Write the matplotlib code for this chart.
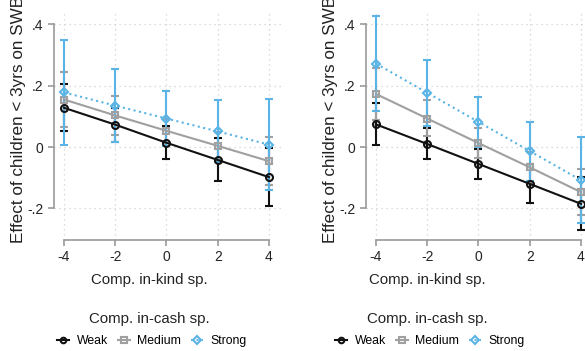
import matplotlib.pyplot as plt

plt.rcParams['font.family'] = ['Liberation Sans', 'DejaVu Sans']

x = [-4, -2, 0, 2, 4]
series = ['Weak', 'Medium', 'Strong']

# left panel: point estimates and CI bounds
left_est = {
    'Weak':   [0.128, 0.073, 0.014, -0.042, -0.098],
    'Medium': [0.155, 0.103, 0.053, 0.004, -0.046],
    'Strong': [0.178, 0.135, 0.093, 0.051, 0.008],
}
left_lo = {
    'Weak':   [0.052, 0.018, -0.038, -0.111, -0.192],
    'Medium': [0.065, 0.038, 0.013, -0.041, -0.124],
    'Strong': [0.007, 0.016, 0.004, -0.050, -0.140],
}
left_hi = {
    'Weak':   [0.207, 0.128, 0.068, 0.028, -0.003],
    'Medium': [0.246, 0.167, 0.093, 0.049, 0.032],
    'Strong': [0.349, 0.254, 0.182, 0.153, 0.157],
}

# right panel
right_est = {
    'Weak':   [0.074, 0.010, -0.055, -0.120, -0.185],
    'Medium': [0.173, 0.093, 0.013, -0.066, -0.147],
    'Strong': [0.272, 0.177, 0.082, -0.013, -0.108],
}
right_lo = {
    'Weak':   [0.008, -0.039, -0.103, -0.183, -0.272],
    'Medium': [0.088, 0.035, -0.037, -0.116, -0.222],
    'Strong': [0.117, 0.068, 0.001, -0.110, -0.249],
}
right_hi = {
    'Weak':   [0.142, 0.061, -0.006, -0.055, -0.097],
    'Medium': [0.258, 0.153, 0.063, -0.016, -0.072],
    'Strong': [0.427, 0.283, 0.162, 0.083, 0.034],
}

colors = {'Weak': '#111111', 'Medium': '#a0a0a0', 'Strong': '#5ab4e5'}
markers = {'Weak': 'o', 'Medium': 's', 'Strong': 'D'}
msizes = {'Weak': 5, 'Medium': 5, 'Strong': 4.5}
styles = {'Weak': '-', 'Medium': '-', 'Strong': ':'}

W, H = 585, 351
fig = plt.figure(figsize=(W / 100, H / 100), dpi=100)


def panel(left_px, est, lo, hi, xlab_x, ylab_x, leg_x):
    ax = fig.add_axes([left_px / W, (H - 240) / H, 227 / W, 227 / H])
    handles = []
    for s in series:
        c = colors[s]
        yerr = [[e - l for e, l in zip(est[s], lo[s])],
                [h - e for e, h in zip(est[s], hi[s])]]
        ax.errorbar(x, est[s], yerr=yerr, fmt='none', ecolor=c, elinewidth=1.5,
                    capsize=3, capthick=1.5, zorder=2)
        ln, = ax.plot(x, est[s], linestyle=styles[s], color=c, lw=1.5,
                      marker=markers[s], ms=msizes[s], mfc='none', mec=c, mew=1.5,
                      label=s, zorder=3)
        handles.append(ln)
    ax.set_xlim(-4.39, 4.47)
    ax.set_ylim(-0.303, 0.437)
    ax.set_xticks(x)
    ax.set_xticklabels(['-4', '-2', '0', '2', '4'])
    ax.set_yticks([-0.2, 0, 0.2, 0.4])
    ax.set_yticklabels(['-.2', '0', '.2', '.4'])
    ax.grid(True, linestyle=(0, (1, 3)), color='#d0d0d0', lw=0.9)
    for sp in ['top', 'right']:
        ax.spines[sp].set_visible(False)
    ax.spines['left'].set_bounds(-0.2, 0.4)
    ax.spines['bottom'].set_bounds(-4, 4)
    for sp in ['left', 'bottom']:
        ax.spines[sp].set_color('#999999')
        ax.spines[sp].set_linewidth(1.2)
    ax.tick_params(colors='#999999', labelcolor='#222222', labelsize=10,
                   length=4, width=1.2)
    ax.set_axisbelow(True)
    # the source crops the long y title at the top edge
    fig.text(ylab_x / W, 1 - 119 / H, 'Effect of children < 3yrs on SWB',
             rotation=90, ha='center', va='center', fontsize=12.3, color='#222222')
    fig.text(xlab_x / W, 1 - 280 / H, 'Comp. in-kind sp.', ha='center',
             va='center', fontsize=10.8, color='#222222')
    fig.text(xlab_x / W, 1 - 319 / H, 'Comp. in-cash sp.', ha='center',
             va='center', fontsize=10.8, color='#222222')
    fig.legend(handles=handles, loc='center', bbox_to_anchor=(leg_x / W, 1 - 341 / H),
               ncol=3, frameon=False, fontsize=8.8, handlelength=1.0,
               handletextpad=0.6, columnspacing=0.8, borderaxespad=0,
               markerscale=0.8)
    return ax


panel(54, left_est, left_lo, left_hi, 149, 19, 152)
panel(366, right_est, right_lo, right_hi, 427, 331, 430)

fig.savefig('out.png', dpi=100)
